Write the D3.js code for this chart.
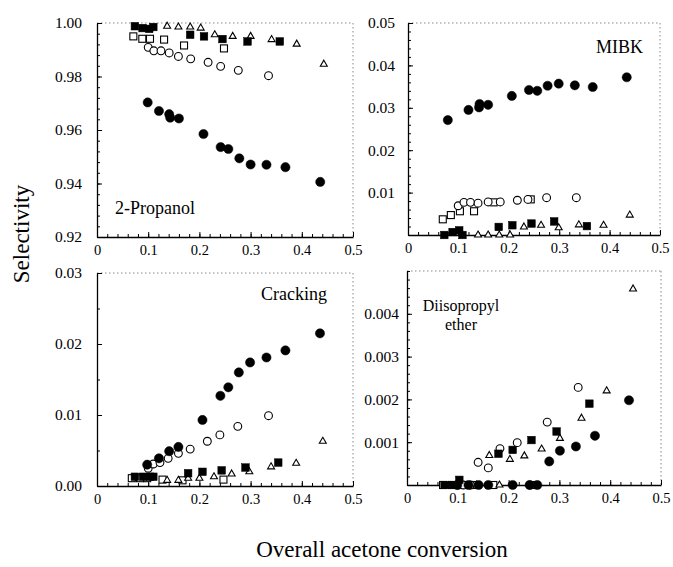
<!DOCTYPE html>
<html>
<head>
<meta charset="utf-8">
<script src="https://cdn.jsdelivr.net/npm/d3@7"></script>
<style>
  body { margin: 0; background: #fff; }
  svg { font-family: "Liberation Serif", "Times New Roman", serif; }
</style>
</head>
<body>
<script>
// x axis (shared)
var xTicks = [0, 0.1, 0.2, 0.3, 0.4, 0.5];
var xTickLabels = ["0", "0.1", "0.2", "0.3", "0.4", "0.5"];

// y ticks per panel
var propanolTicks = [0.92, 0.94, 0.96, 0.98, 1.00];
var propanolLabels = ["0.92", "0.94", "0.96", "0.98", "1.00"];
var mibkTicks = [0.01, 0.02, 0.03, 0.04, 0.05];
var mibkLabels = ["0.01", "0.02", "0.03", "0.04", "0.05"];
var crackingTicks = [0, 0.01, 0.02, 0.03];
var crackingLabels = ["0.00", "0.01", "0.02", "0.03"];
var etherTicks = [0.001, 0.002, 0.003, 0.004];
var etherLabels = ["0.001", "0.002", "0.003", "0.004"];

// 2-Propanol
var propanolFilledCircle = [[0.099,0.9703],[0.121,0.9671],[0.141,0.9659],[0.143,0.9646],[0.160,0.9643],[0.208,0.9585],[0.2415,0.9536],[0.2565,0.9529],[0.278,0.9494],[0.300,0.9471],[0.331,0.9470],[0.368,0.9461],[0.436,0.9406]];
var propanolOpenCircle = [[0.100,0.9909],[0.111,0.9896],[0.125,0.9896],[0.141,0.9888],[0.159,0.9875],[0.183,0.9866],[0.217,0.9853],[0.2415,0.9838],[0.276,0.9823],[0.335,0.9803]];
var propanolFilledSquare = [[0.074,0.9988],[0.089,0.9981],[0.102,0.9978],[0.110,0.9985],[0.182,0.9956],[0.209,0.9950],[0.245,0.9940],[0.294,0.9931],[0.357,0.9931]];
var propanolOpenSquare = [[0.071,0.9950],[0.0885,0.9941],[0.1035,0.9941],[0.131,0.9938],[0.170,0.9916],[0.248,0.9905]];
var propanolOpenTriangle = [[0.137,0.9988],[0.159,0.9985],[0.182,0.9985],[0.2025,0.9981],[0.230,0.9956],[0.265,0.9950],[0.300,0.9950],[0.341,0.9938],[0.390,0.9921],[0.443,0.9846]];

// MIBK
var mibkFilledCircle = [[0.079,0.0271],[0.120,0.0295],[0.141,0.0301],[0.142,0.0309],[0.159,0.0307],[0.206,0.0328],[0.240,0.0342],[0.2565,0.0340],[0.277,0.0352],[0.299,0.0357],[0.331,0.0353],[0.3665,0.0349],[0.434,0.0372]];
var mibkOpenCircle = [[0.0996,0.0069],[0.111,0.0077],[0.124,0.0077],[0.139,0.0075],[0.159,0.0078],[0.183,0.0078],[0.217,0.0082],[0.238,0.0084],[0.275,0.0088],[0.334,0.0088]];
var mibkFilledSquare = [[0.072,0.0],[0.0885,0.0007],[0.1016,0.0011],[0.108,0.0],[0.180,0.0019],[0.207,0.0023],[0.245,0.0027],[0.290,0.0032],[0.355,0.0021]];
var mibkOpenSquare = [[0.069,0.0037],[0.085,0.0047],[0.103,0.0056],[0.131,0.0056],[0.170,0.0077],[0.2435,0.0084]];
var mibkOpenTriangle = [[0.139,0],[0.159,0],[0.181,0],[0.2025,0],[0.230,0.0019],[0.264,0.0023],[0.299,0.0017],[0.339,0.0024],[0.388,0.0023],[0.440,0.0047]];

// Cracking
var crackingFilledCircle = [[0.098,0.0030],[0.121,0.0039],[0.141,0.0049],[0.159,0.0055],[0.206,0.0093],[0.241,0.0127],[0.2565,0.0139],[0.277,0.0160],[0.299,0.0174],[0.331,0.0181],[0.368,0.0191],[0.4355,0.0215]];
var crackingOpenCircle = [[0.100,0.0025],[0.110,0.0031],[0.123,0.0033],[0.139,0.0039],[0.159,0.0046],[0.182,0.0052],[0.2155,0.0063],[0.240,0.0072],[0.275,0.0084],[0.335,0.0099]];
var crackingFilledSquare = [[0.074,0.0013],[0.090,0.0013],[0.1035,0.0013],[0.110,0.0013],[0.178,0.0018],[0.206,0.0020],[0.2435,0.0022],[0.290,0.0026],[0.354,0.0033]];
var crackingOpenSquare = [[0.068,0.0011],[0.084,0.0011],[0.098,0.0011],[0.128,0.0009],[0.167,0.0008],[0.247,0.0009]];
var crackingOpenTriangle = [[0.137,0.0008],[0.159,0.0008],[0.178,0.0011],[0.200,0.0011],[0.2285,0.0013],[0.263,0.0017],[0.2975,0.0020],[0.340,0.0027],[0.389,0.0032],[0.441,0.0063]];

// Diisopropyl ether
var etherFilledCircle = [[0.099,0],[0.121,0],[0.141,0],[0.160,0],[0.208,0],[0.2415,0],[0.2565,0],[0.280,0.00055],[0.301,0.0008],[0.3325,0.0009],[0.370,0.00115],[0.437,0.00198]];
var etherOpenCircle = [[0.100,0],[0.111,0],[0.125,0],[0.140,0.00053],[0.160,0.0004],[0.183,0.00085],[0.217,0.00099],[0.2415,0],[0.276,0.00147],[0.337,0.00228]];
var etherFilledSquare = [[0.074,0],[0.089,0],[0.103,0.00012],[0.180,0.00073],[0.208,0.00082],[0.245,0.00105],[0.2945,0.00125],[0.359,0.0019]];
var etherOpenSquare = [[0.071,0],[0.0885,0],[0.1035,0],[0.131,0],[0.170,0],[0.248,0]];
var etherOpenTriangle = [[0.137,0],[0.162,0.00069],[0.182,0],[0.2025,0.0006],[0.231,0.00068],[0.265,0.00084],[0.301,0.00109],[0.3435,0.00156],[0.393,0.0022],[0.445,0.00458]];

var svgWidth = 673, svgHeight = 567;

var svg = d3.select("body")
  .append("svg")
  .attr("width", svgWidth)
  .attr("height", svgHeight);

// panel layout
var panels = [
  { left: 97, right: 353, top: 23, bottom: 237, domain: [0.92, 1.00], ticks: propanolTicks, labels: propanolLabels,
    minor: 0.004, pad: 15, title: ["2-Propanol"], tx: 115, ty: 214, anchor: "start", fs: 18,
    series: [propanolOpenSquare, propanolOpenCircle, propanolOpenTriangle, propanolFilledSquare, propanolFilledCircle] },
  { left: 408, right: 660, top: 23, bottom: 235, domain: [0, 0.05], ticks: mibkTicks, labels: mibkLabels,
    minor: 0.002, pad: 13, title: ["MIBK"], tx: 643, ty: 53, anchor: "end", fs: 18,
    series: [mibkOpenSquare, mibkOpenCircle, mibkOpenTriangle, mibkFilledSquare, mibkFilledCircle] },
  { left: 97, right: 353, top: 273, bottom: 486, domain: [0, 0.03], ticks: crackingTicks, labels: crackingLabels,
    minor: 0.005, pad: 15, title: ["Cracking"], tx: 327, ty: 300, anchor: "end", fs: 18,
    series: [crackingOpenSquare, crackingOpenCircle, crackingOpenTriangle, crackingFilledSquare, crackingFilledCircle] },
  { left: 407, right: 661, top: 271, bottom: 485, domain: [0, 0.005], ticks: etherTicks, labels: etherLabels,
    minor: 0.0002, pad: 8, title: ["Diisopropyl", "ether"], tx: 461, ty: 311, anchor: "middle", fs: 16,
    series: [etherOpenSquare, etherOpenCircle, etherOpenTriangle, etherFilledSquare, etherFilledCircle] }
];

var markerTypes = ["openSquare", "openCircle", "openTriangle", "filledSquare", "filledCircle"];

function drawMarks(g, data, type, x, y) {
  var sel = g.append("g").selectAll(".m").data(data).enter();
  if (type === "filledCircle" || type === "openCircle") {
    sel.append("circle")
      .attr("cx", d => x(d[0]))
      .attr("cy", d => y(d[1]))
      .attr("r", type === "filledCircle" ? 4.6 : 3.9)
      .attr("fill", type === "filledCircle" ? "#000" : "#fff")
      .attr("stroke", "#000")
      .attr("stroke-width", type === "filledCircle" ? 0.5 : 1.1);
  } else if (type === "filledSquare" || type === "openSquare") {
    var s = type === "filledSquare" ? 7.6 : 7;
    sel.append("rect")
      .attr("x", d => x(d[0]) - s / 2)
      .attr("y", d => y(d[1]) - s / 2)
      .attr("width", s)
      .attr("height", s)
      .attr("fill", type === "filledSquare" ? "#000" : "#fff")
      .attr("stroke", "#000")
      .attr("stroke-width", type === "filledSquare" ? 0.5 : 1.1);
  } else {
    sel.append("path")
      .attr("d", d3.symbol().type(d3.symbolTriangle).size(21))
      .attr("transform", d => "translate(" + x(d[0]) + "," + y(d[1]) + ")")
      .attr("fill", "#fff")
      .attr("stroke", "#000")
      .attr("stroke-width", 1.1);
  }
}

function styleAxis(a, size) {
  a.attr("font-family", null).attr("font-size", size);
  a.selectAll("text").attr("fill", "#000");
  a.selectAll("line").attr("stroke", "#000");
  a.select(".domain").attr("stroke", "#000").attr("stroke-width", 1.3);
}

panels.forEach(function(p) {
  var x = d3.scaleLinear().domain([0, 0.5]).range([p.left, p.right]);
  var y = d3.scaleLinear().domain(p.domain).range([p.bottom, p.top]);
  var g = svg.append("g");

  // dotted top and right edges
  g.append("line")
    .attr("x1", p.left).attr("x2", p.right).attr("y1", p.top).attr("y2", p.top)
    .attr("stroke", "#888").attr("stroke-width", 1).attr("stroke-dasharray", "1.5,2.5");
  g.append("line")
    .attr("x1", p.right).attr("x2", p.right).attr("y1", p.top).attr("y2", p.bottom)
    .attr("stroke", "#888").attr("stroke-width", 1).attr("stroke-dasharray", "1.5,2.5");

  // minor ticks
  g.append("g")
    .attr("transform", "translate(0," + p.bottom + ")")
    .call(d3.axisBottom(x).tickValues(d3.range(0, 0.5001, 0.02)).tickSize(-3).tickFormat(""))
    .call(a => { a.select(".domain").remove(); a.selectAll("line").attr("stroke", "#000"); });
  g.append("g")
    .attr("transform", "translate(" + p.left + ",0)")
    .call(d3.axisLeft(y).tickValues(d3.range(p.domain[0], p.domain[1] + p.minor / 2, p.minor)).tickSize(-3).tickFormat(""))
    .call(a => { a.select(".domain").remove(); a.selectAll("line").attr("stroke", "#000"); });

  // major axes
  g.append("g")
    .attr("transform", "translate(0," + p.bottom + ")")
    .call(d3.axisBottom(x).tickValues(xTicks).tickFormat((d, i) => xTickLabels[i])
      .tickSize(-5).tickSizeOuter(0).tickPadding(8))
    .call(a => styleAxis(a, 14.5));
  g.append("g")
    .attr("transform", "translate(" + p.left + ",0)")
    .call(d3.axisLeft(y).tickValues(p.ticks).tickFormat((d, i) => p.labels[i])
      .tickSize(-5).tickSizeOuter(0).tickPadding(p.pad))
    .call(a => styleAxis(a, 15.5));

  // marks
  p.series.forEach(function(data, i) {
    drawMarks(g, data, markerTypes[i], x, y);
  });

  // panel label
  var t = g.append("text")
    .attr("x", p.tx).attr("y", p.ty)
    .attr("text-anchor", p.anchor)
    .attr("font-size", p.fs);
  p.title.forEach(function(line, i) {
    t.append("tspan").attr("x", p.tx).attr("dy", i === 0 ? 0 : "1.2em").text(line);
  });
});

// axis titles
svg.append("text")
  .attr("transform", "translate(29,234) rotate(-90)")
  .attr("text-anchor", "middle")
  .attr("font-size", 23)
  .text("Selectivity");

svg.append("text")
  .attr("x", 382).attr("y", 557)
  .attr("text-anchor", "middle")
  .attr("font-size", 23)
  .text("Overall acetone conversion");
</script>
</body>
</html>
